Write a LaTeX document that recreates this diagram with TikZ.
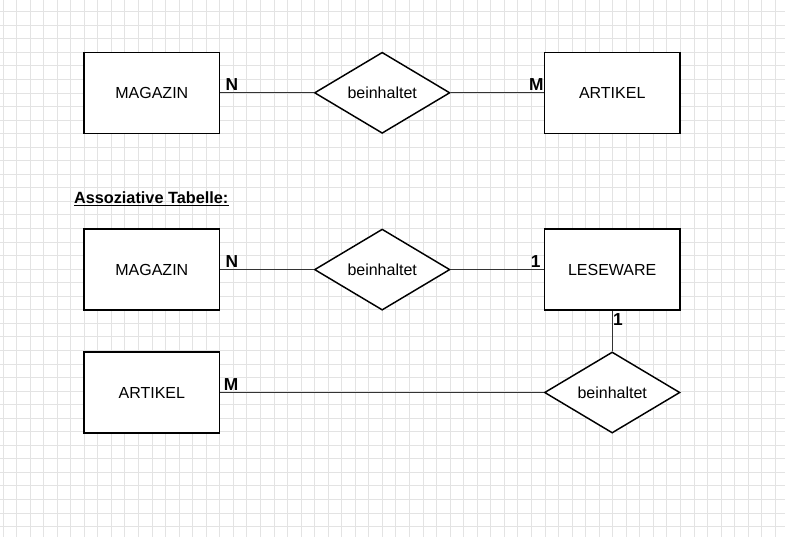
\documentclass[tikz,border=0pt]{standalone}
\usepackage{fontspec}
\setmainfont{Liberation Sans}
\usetikzlibrary{shapes.geometric}
\tikzset{
  gridline/.style={draw=black!11, line width=0.75pt},
  entity/.style={draw=black, fill=white, line width=1.1pt, rectangle, inner sep=0pt,
    minimum width=101.6pt, minimum height=60.8pt, font=\fontsize{12pt}{14pt}\selectfont},
  relation/.style={draw=black, fill=white, line width=1.1pt, diamond, inner sep=0pt, aspect=1.67,
    minimum width=101.6pt, minimum height=60.8pt, font=\fontsize{12pt}{14pt}\selectfont},
  conn/.style={draw=black!80, line width=0.9pt},
  card/.style={inner sep=0pt, font=\fontsize{13pt}{15pt}\selectfont\bfseries},
  titletext/.style={inner sep=0pt, font=\fontsize{12.2pt}{14pt}\selectfont\bfseries}
}
\begin{document}
\begin{tikzpicture}[x=0.75pt, y=-0.75pt]
\useasboundingbox (0,0) rectangle (785,537);
\fill[white] (0,0) rectangle (785,537);
\foreach \i in {0,...,57} { \draw[gridline] ({3+13.55*\i},0) -- ({3+13.55*\i},537); }
\foreach \j in {0,...,38} { \draw[gridline] (0,{11.7+13.55*\j}) -- (785,{11.7+13.55*\j}); }

% top diagram
\node[entity] (mag1) at (151.8,92.8) {MAGAZIN};
\node[relation] (rel1) at (382.2,92.8) {beinhaltet};
\node[entity] (art1) at (612.2,92.8) {ARTIKEL};
\draw[conn] (mag1.east) -- (rel1.west);
\draw[conn] (rel1.east) -- (art1.west);
\node[card, anchor=base west] (n1) at (225.3,90.9) {N};
\node[card, anchor=base east] (m1) at (543.7,90.9) {M};

% title
\node[titletext, anchor=base west] (title) at (73.8,203.3) {Assoziative Tabelle:};
\draw[black, line width=0.8pt] ([yshift=-1.8pt]title.base west) -- ([yshift=-1.8pt]title.base east);

% bottom diagram
\node[entity] (mag2) at (151.8,269.6) {MAGAZIN};
\node[relation] (rel2) at (382.2,269.6) {beinhaltet};
\node[entity] (lese) at (612.2,269.6) {LESEWARE};
\node[entity] (art2) at (151.8,392.5) {ARTIKEL};
\node[relation] (rel3) at (612.2,392.5) {beinhaltet};
\draw[conn] (mag2.east) -- (rel2.west);
\draw[conn] (rel2.east) -- (lese.west);
\draw[conn] (lese.south) -- (rel3.north);
\draw[conn] (art2.east) -- (rel3.west);
\node[card, anchor=base west] (n2) at (225.3,267.5) {N};
\node[card, anchor=base east] (o1) at (540.8,267.9) {1};
\node[card, anchor=base west] (o2) at (612.8,325.9) {1};
\node[card, anchor=base west] (m2) at (223.6,390.9) {M};
\end{tikzpicture}
\end{document}
